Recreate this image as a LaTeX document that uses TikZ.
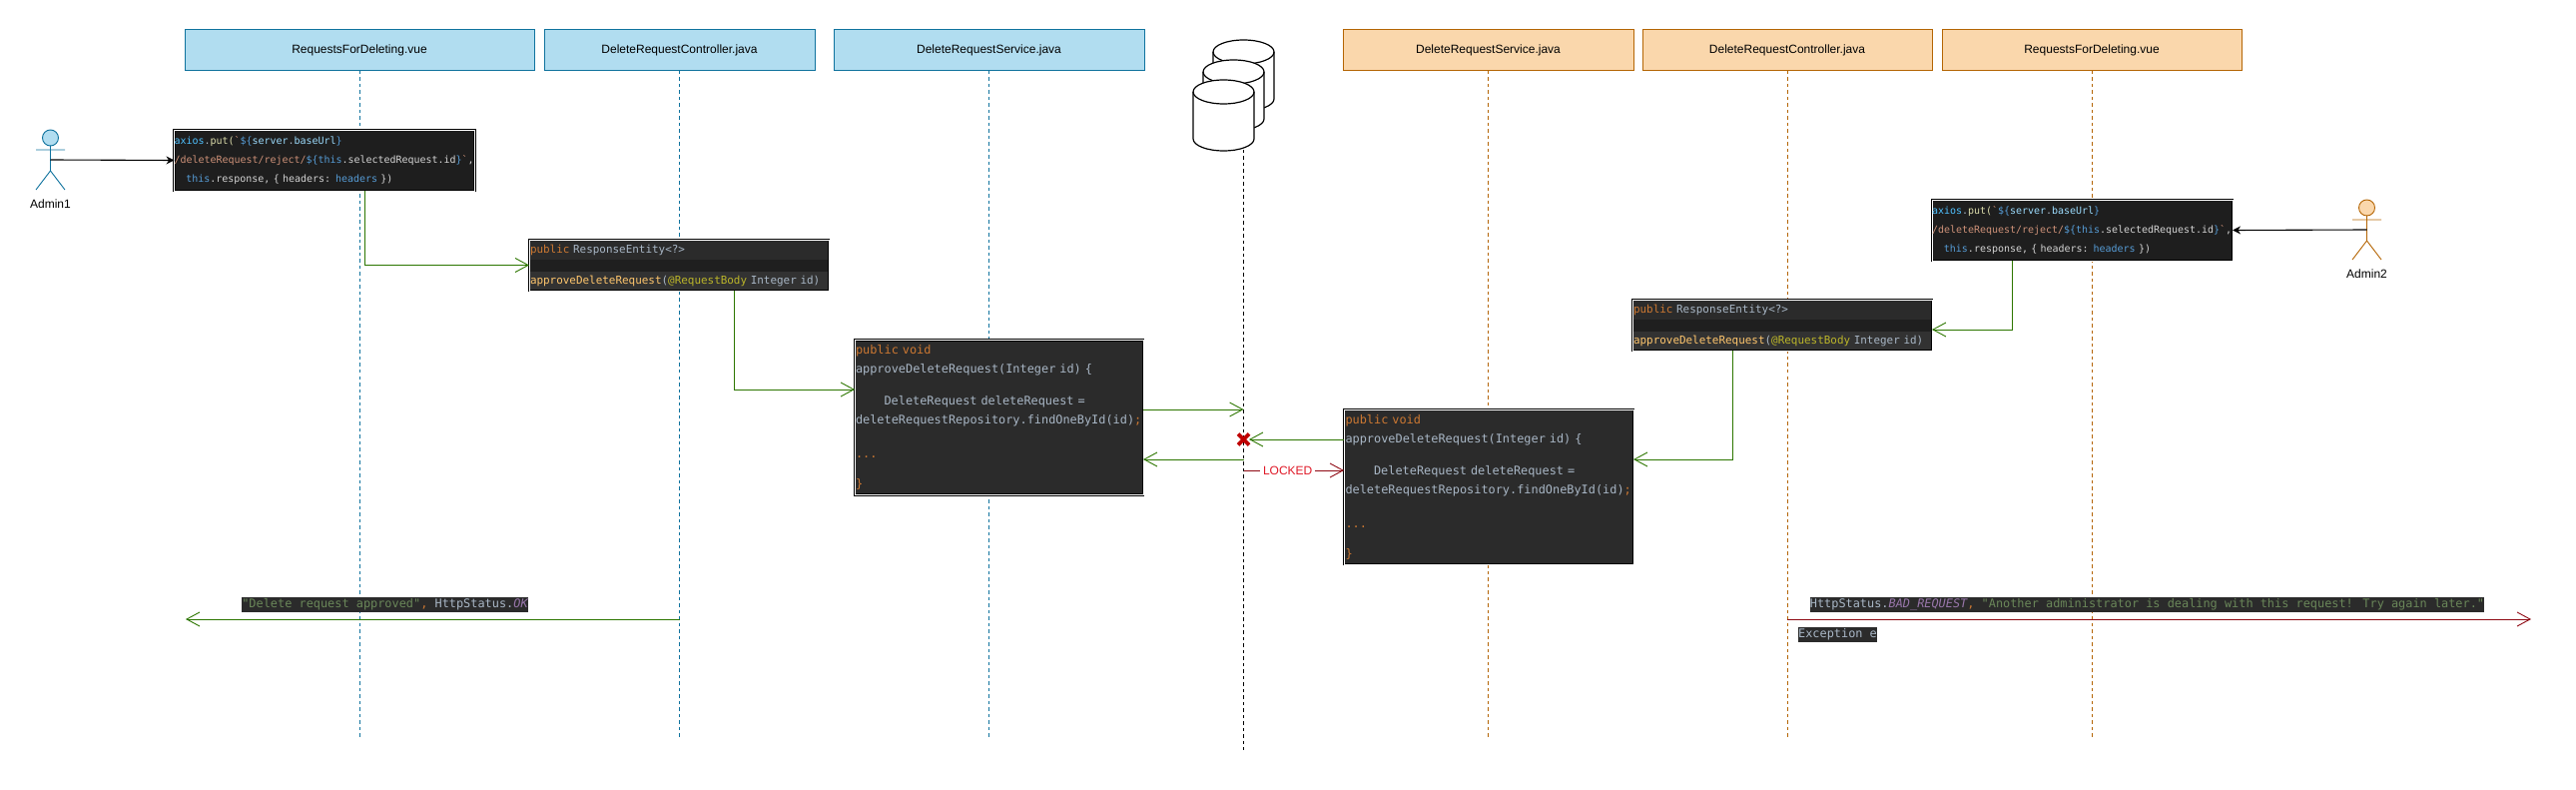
\documentclass[tikz,border=0pt]{standalone}
\usepackage{xcolor}
\usepackage{fontspec}
\setmainfont{Liberation Sans}
\newfontfamily\codefont{DejaVu Sans Mono}
\usepackage{tikz}
\usetikzlibrary{arrows.meta,shapes.misc}
\definecolor{blueFill}{HTML}{B1DDF0}
\definecolor{blueLine}{HTML}{10739E}
\definecolor{orangeFill}{HTML}{FAD7AC}
\definecolor{orangeLine}{HTML}{B46504}
\definecolor{msgGreen}{HTML}{2D7600}
\definecolor{lockRed}{HTML}{8F0A14}
\definecolor{lockText}{HTML}{E01A28}
\definecolor{vsBack}{HTML}{1E1E1E}
\definecolor{vsVar}{HTML}{9CDCFE}
\definecolor{vsKey}{HTML}{569CD6}
\definecolor{vsConst}{HTML}{4FC1FF}
\definecolor{vsFunc}{HTML}{DCDCAA}
\definecolor{vsStr}{HTML}{CE9178}
\definecolor{vsText}{HTML}{D4D4D4}
\definecolor{ideaBack}{HTML}{2B2B2B}
\definecolor{ideaBand}{HTML}{1F1F1F}
\definecolor{ideaLow}{HTML}{323232}
\definecolor{ideaText}{HTML}{A9B7C6}
\definecolor{ideaKey}{HTML}{CC7832}
\definecolor{ideaFunc}{HTML}{FFC66D}
\definecolor{ideaAnno}{HTML}{BBB529}
\definecolor{ideaStr}{HTML}{6A8759}
\definecolor{ideaConst}{HTML}{9876AA}
\tikzset{
    header/.style={draw,line width=1pt,outer sep=0pt,minimum height=41pt,font=\fontsize{12}{14}\selectfont},
    header blue/.style={header,fill=blueFill,draw=blueLine},
    header orange/.style={header,fill=orangeFill,draw=orangeLine},
    lifeline/.style={line width=.7pt,dash pattern=on 3.5pt off 3pt},
    code box/.style={draw=black,line width=.7pt,double=white,double distance=.7pt,outer sep=0pt,inner sep=0pt,align=left,text=ideaText},
    vue box/.style={code box,fill=vsBack,minimum width=301pt,minimum height=61pt,text width=301pt,
        font=\codefont\fontsize{9.97}{19}\selectfont},
    ctrl box/.style={code box,fill=ideaBack,minimum width=300pt,minimum height=51pt,text width=298pt,
        font=\codefont\fontsize{10.93}{31}\selectfont,
        path picture={
            \fill[ideaBand] ([yshift=-20pt]path picture bounding box.north west) rectangle ([yshift=-32pt]path picture bounding box.north east);
            \fill[ideaLow] ([yshift=-32pt]path picture bounding box.north west) rectangle (path picture bounding box.south east);
        }},
    service box/.style={code box,fill=ideaBack,minimum height=155pt,text width=287pt,
        font=\codefont\fontsize{11.89}{19}\selectfont},
    status label/.style={fill=ideaBack,inner sep=0pt,outer sep=0pt,text height=9.5pt,text depth=3.5pt,minimum height=15pt,text=ideaText,
        font=\codefont\fontsize{11.89}{14}\selectfont},
    msg/.style={->,>={Straight Barb[length=13pt,width=14pt,line width=.9pt]},line width=.9pt,color=msgGreen},
    lock msg/.style={msg,color=lockRed},
    actor msg/.style={->,>={Stealth[length=8pt,width=8pt]},line width=1.1pt,color=black},
    lock mark/.style={cross out,draw=red!75!black,line width=3.6pt,minimum size=11pt,inner sep=0pt,outer sep=0pt},
    actor figure/.pic={
        \draw[pic actions,line width=.9pt] (0,8) circle [radius=8pt];
        \draw[pic actions,fill=none,line width=.9pt] (-14.5,20) -- (14.5,20) (0,16) -- (0,41) (-14.5,60) -- (0,41) -- (14.5,60);
        \coordinate (-waist) at (0,30);
        \node[font=\fontsize{12}{14}\selectfont] (-label) at (0,74) {\tikzpictext};
    },
    drum figure/.pic={
        \draw[line width=1.2pt,fill=white] (-30.5,12) -- (-30.5,59) arc[start angle=180,end angle=360,x radius=30.5pt,y radius=12pt]
            -- (30.5,12) arc[start angle=0,end angle=180,x radius=30.5pt,y radius=12pt] -- cycle;
        \draw[line width=1.2pt] (-30.5,12) arc[start angle=180,end angle=360,x radius=30.5pt,y radius=12pt];
    },
}
\newcommand{\vue}[2]{\textcolor{vs#1}{#2}}
\newcommand{\idea}[2]{\textcolor{idea#1}{#2}}
\newcommand{\tabs}[1]{\hspace*{#1em}}

\begin{document}
\begin{tikzpicture}[x=1pt,y=-1pt]
    \useasboundingbox (0,0) rectangle (2580,791);

    % lifeline heads
    \node[header blue,minimum width=350pt] (viewA) at (360,50.5) {RequestsForDeleting.vue};
    \node[header blue,minimum width=271pt] (ctrlA) at (680.5,50.5) {DeleteRequestController.java};
    \node[header blue,minimum width=311pt] (servA) at (990.5,50.5) {DeleteRequestService.java};
    \node[header orange,minimum width=291pt] (servB) at (1490.5,50.5) {DeleteRequestService.java};
    \node[header orange,minimum width=290pt] (ctrlB) at (1790,50.5) {DeleteRequestController.java};
    \node[header orange,minimum width=300pt] (viewB) at (2095,50.5) {RequestsForDeleting.vue};

    \coordinate (lifeEnd) at (0,739);
    \coordinate (dbStart) at (1245.5,150);
    \coordinate (dbEnd) at (1245.5,751);
    \foreach \n in {viewA,ctrlA,servA}
        \draw[lifeline,blueLine] (\n.south) -- (\n.south |- lifeEnd);
    \foreach \n in {servB,ctrlB,viewB}
        \draw[lifeline,orangeLine] (\n.south) -- (\n.south |- lifeEnd);

    % database
    \draw[lifeline,black] (dbStart) -- (dbEnd);
    \pic (dbBack) at (1245.5,40) {drum figure};
    \pic (dbMid) at (1235.5,60) {drum figure};
    \pic (dbFront) at (1225.5,80) {drum figure};

    % actors
    \pic[draw=blueLine,fill=blueFill,pic text=Admin1] (adminA) at (50.5,130) {actor figure};
    \pic[draw=orangeLine,fill=orangeFill,pic text=Admin2] (adminB) at (2370.5,200) {actor figure};

    % code of the first request
    \node[vue box] (reqA) at (325,160.5) {%
        \vue{Const}{axios}.\vue{Func}{put}\vue{Func}{(}\vue{Str}{`}\vue{Key}{\$\{}\vue{Var}{server}.\vue{Var}{baseUrl}\vue{Key}{\}}\\
        \vue{Str}{/deleteRequest/reject/}\vue{Key}{\$\{this}\vue{Text}{.selectedRequest.id}\vue{Key}{\}}\vue{Str}{`}\vue{Text}{,}\\
        \tabs{1.2}\vue{Key}{this}\vue{Text}{.response, \{ headers:} \vue{Key}{headers} \vue{Text}{\})}};
    \node[ctrl box] (apiA) at (680,265.5) {%
        \idea{Key}{public} ResponseEntity<?>\\
        \idea{Func}{approveDeleteRequest}(\idea{Anno}{@RequestBody} Integer id)};
    \node[service box,minimum width=289pt] (implA) at (1000.5,418) {%
        \idea{Key}{public void}\\
        approveDeleteRequest(Integer id) \{\\[13pt]
        \tabs{2.4}DeleteRequest deleteRequest =\\
        deleteRequestRepository.findOneById(id)\idea{Key}{;}\\[15pt]
        \idea{Key}{...}\\[11pt]
        \idea{Key}{\}}};

    % code of the second request
    \node[vue box] (reqB) at (2085.5,230.5) {%
        \vue{Const}{axios}.\vue{Func}{put}\vue{Func}{(}\vue{Str}{`}\vue{Key}{\$\{}\vue{Var}{server}.\vue{Var}{baseUrl}\vue{Key}{\}}\\
        \vue{Str}{/deleteRequest/reject/}\vue{Key}{\$\{this}\vue{Text}{.selectedRequest.id}\vue{Key}{\}}\vue{Str}{`}\vue{Text}{,}\\
        \tabs{1.2}\vue{Key}{this}\vue{Text}{.response, \{ headers:} \vue{Key}{headers} \vue{Text}{\})}};
    \node[ctrl box] (apiB) at (1785,325.5) {%
        \idea{Key}{public} ResponseEntity<?>\\
        \idea{Func}{approveDeleteRequest}(\idea{Anno}{@RequestBody} Integer id)};
    \node[service box,minimum width=290pt] (implB) at (1491,487.5) {%
        \idea{Key}{public void}\\
        approveDeleteRequest(Integer id) \{\\[13pt]
        \tabs{2.4}DeleteRequest deleteRequest =\\
        deleteRequestRepository.findOneById(id)\idea{Key}{;}\\[15pt]
        \idea{Key}{...}\\[11pt]
        \idea{Key}{\}}};

    % calls
    \draw[actor msg] (adminA-waist) -- (reqA.west);
    \draw[actor msg] (adminB-waist) -- (reqB.east);
    \draw[msg] ([xshift=40pt]reqA.south) |- (apiA.west);
    \draw[msg] ([xshift=55pt]apiA.south) |- ([yshift=28pt]implA.west);
    \draw[msg] ([xshift=-70.5pt]reqB.south) |- ([yshift=-4.5pt]apiB.east);
    \draw[msg] ([xshift=-50pt]apiB.south) |- ([yshift=27.5pt]implB.east);

    % database access
    \coordinate (dbRead) at (1245.5,410);
    \coordinate (dbFree) at (1245.5,460);
    \coordinate (dbLock) at (1245.5,471);
    \node[lock mark] (lockMark) at (1245.5,440) {};
    \draw[msg] (implA.east |- dbRead) -- (dbRead);
    \draw[msg] (dbFree) -- (implA.east |- dbFree);
    \draw[msg] (implB.west |- lockMark) -- (lockMark);
    \draw[lock msg] (dbLock) -- node[pos=.44,fill=white,inner sep=3pt,text=lockText,font=\fontsize{12}{14}\selectfont] (lockLabel) {LOCKED} (implB.west |- dbLock);

    % responses
    \coordinate (okEnd) at (186,620);
    \coordinate (failEnd) at (2535,620);
    \draw[msg] (ctrlA.south |- okEnd) -- (okEnd);
    \draw[lock msg] (ctrlB.south |- failEnd) -- (failEnd);
    \node[status label] (okText) at (385.5,605.5) {\idea{Str}{"Delete request approved"}\idea{Key}{,} HttpStatus.\idea{Const}{\itshape OK}};
    \node[status label] (failText) at (2150.5,605.5) {HttpStatus.\idea{Const}{\itshape BAD\_REQUEST}\idea{Key}{,} \idea{Str}{"Another administrator is dealing with this request! Try again later."}};
    \node[status label] (failCause) at (1840.5,635.5) {Exception e};
\end{tikzpicture}
\end{document}
